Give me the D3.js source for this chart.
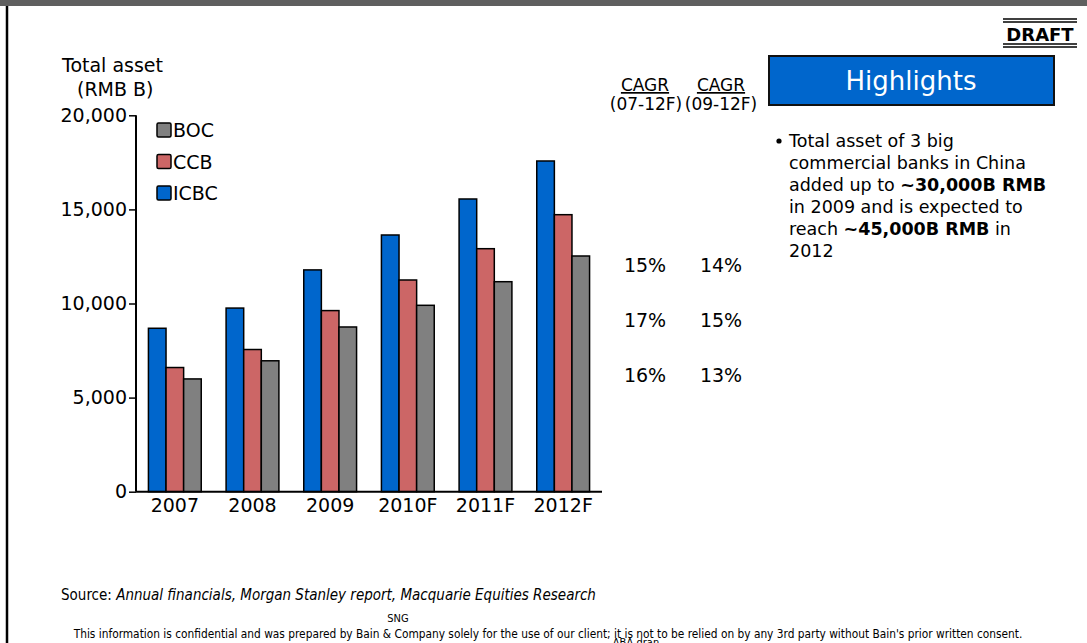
<!DOCTYPE html>
<html>
<head>
<meta charset="utf-8">
<script src="https://cdn.jsdelivr.net/npm/d3@7"></script>
<style>
  body { margin: 0; background: #fff; }
  svg { display: block; font-family: "DejaVu Sans", Verdana, sans-serif; }
</style>
</head>
<body>
<svg width="1087" height="643"></svg>
<script>
// chart data
var years = ['2007', '2008', '2009', '2010F', '2011F', '2012F'];
var banks = ['ICBC', 'CCB', 'BOC'];
var icbc = [8684, 9757, 11785, 13640, 15553, 17572];
var ccb  = [6598, 7555, 9623, 11249, 12912, 14719];
var boc  = [5992, 6956, 8752, 9904, 11158, 12524];
var yTicks = [0, 5000, 10000, 15000, 20000];
var cagr0712 = ['15%', '17%', '16%'];   // ICBC, CCB, BOC
var cagr0912 = ['14%', '15%', '13%'];
var legendOrder = ['BOC', 'CCB', 'ICBC'];

var colors = { ICBC: '#0066CC', CCB: '#CC6666', BOC: '#808080' };
var values = { ICBC: icbc, CCB: ccb, BOC: boc };

var svg = d3.select('svg');

// frame
svg.append('rect').attr('x', 0).attr('y', 0).attr('width', 1087).attr('height', 6).attr('fill', '#5f5f5f');
svg.append('line').attr('x1', 7).attr('y1', 6).attr('x2', 7).attr('y2', 643)
   .attr('stroke', '#000').attr('stroke-width', 2.5);

// DRAFT stamp
var dg = svg.append('g');
[19, 22, 44, 47].forEach(function(y){
  dg.append('line').attr('x1', 1003).attr('x2', 1077).attr('y1', y).attr('y2', y)
    .attr('stroke', '#000').attr('stroke-width', 1.5);
});
dg.append('text').attr('x', 1040).attr('y', 41).attr('text-anchor', 'middle')
  .attr('font-size', 18).attr('font-weight', 'bold').text('DRAFT');

// scales
var x0 = d3.scaleBand().domain(years).range([136, 602]).paddingInner(0.32).paddingOuter(0.16);
var x1 = d3.scaleBand().domain(banks).range([0, x0.bandwidth()]);
var y = d3.scaleLinear().domain([0, 20000]).range([491.7, 115.3]);

// bars
var groups = svg.append('g').selectAll('g').data(years).join('g')
  .attr('transform', function(d){ return 'translate(' + x0(d) + ',0)'; });
groups.selectAll('rect')
  .data(function(d, i){ return banks.map(function(b){ return { bank: b, v: values[b][i] }; }); })
  .join('rect')
  .attr('x', function(d){ return x1(d.bank); })
  .attr('y', function(d){ return y(d.v); })
  .attr('width', x1.bandwidth())
  .attr('height', function(d){ return y(0) - y(d.v); })
  .attr('fill', function(d){ return colors[d.bank]; })
  .attr('stroke', '#000').attr('stroke-width', 1.5);

// y axis
var yAxis = svg.append('g').attr('transform', 'translate(136,0)')
  .call(d3.axisLeft(y).tickValues(yTicks).tickFormat(d3.format(',')).tickSize(7).tickPadding(2));
yAxis.select('.domain').attr('stroke-width', 2).attr('d', 'M0,' + y(20000) + 'V' + y(0));
yAxis.selectAll('.tick line').attr('stroke-width', 1.5);
yAxis.selectAll('text').attr('font-size', 19).attr('font-family', '"DejaVu Sans", sans-serif').attr('fill', '#000');

// x axis
var xAxis = svg.append('g').attr('transform', 'translate(0,' + y(0) + ')')
  .call(d3.axisBottom(x0).tickSize(0).tickPadding(7));
xAxis.select('.domain').attr('stroke-width', 2).attr('d', 'M136,0H602');
xAxis.selectAll('text').attr('font-size', 19).attr('font-family', '"DejaVu Sans", sans-serif').attr('fill', '#000');

// y title
svg.append('text').attr('x', 62).attr('y', 72).attr('font-size', 19).text('Total asset');
svg.append('text').attr('x', 77).attr('y', 96).attr('font-size', 19).text('(RMB B)');

// legend
var lg = svg.append('g').selectAll('g').data(legendOrder).join('g')
  .attr('transform', function(d, i){ return 'translate(157,' + (123 + i * 31.5) + ')'; });
lg.append('rect').attr('width', 14).attr('height', 14).attr('rx', 1.5)
  .attr('fill', function(d){ return colors[d]; }).attr('stroke', '#000').attr('stroke-width', 1.5);
lg.append('text').attr('x', 16).attr('y', 14).attr('font-size', 19).text(function(d){ return d; });

// CAGR columns
var colX = [645, 721];
var hdr = svg.append('g').attr('font-size', 17).attr('text-anchor', 'middle');
hdr.append('text').attr('x', colX[0]).attr('y', 91).attr('text-decoration', 'underline').text('CAGR');
hdr.append('text').attr('x', colX[1]).attr('y', 91).attr('text-decoration', 'underline').text('CAGR');
hdr.append('text').attr('x', colX[0] + 1).attr('y', 110).text('(07-12F)');
hdr.append('text').attr('x', colX[1]).attr('y', 110).text('(09-12F)');
var rowY = d3.scalePoint().domain(banks).range([272, 382]);
svg.append('g').selectAll('text').data(cagr0712).join('text')
  .attr('x', colX[0]).attr('y', function(d, i){ return rowY(banks[i]); })
  .attr('text-anchor', 'middle').attr('font-size', 19).text(function(d){ return d; });
svg.append('g').selectAll('text').data(cagr0912).join('text')
  .attr('x', colX[1]).attr('y', function(d, i){ return rowY(banks[i]); })
  .attr('text-anchor', 'middle').attr('font-size', 19).text(function(d){ return d; });

// highlights
svg.append('rect').attr('x', 769).attr('y', 56).attr('width', 285).attr('height', 49)
  .attr('fill', '#0066CC').attr('stroke', '#111').attr('stroke-width', 2);
svg.append('text').attr('x', 911).attr('y', 90).attr('text-anchor', 'middle')
  .attr('font-size', 26).attr('fill', '#fff').text('Highlights');
svg.append('circle').attr('cx', 779).attr('cy', 141).attr('r', 2.6).attr('fill', '#000');
var lines = [
  [['Total asset of 3 big', false]],
  [['commercial banks in China', false]],
  [['added up to ', false], ['~30,000B RMB', true]],
  [['in 2009 and is expected to', false]],
  [['reach ', false], ['~45,000B RMB', true], [' in', false]],
  [['2012', false]]
];
var hl = svg.append('text').attr('font-size', 17.5);
lines.forEach(function(parts, i){
  parts.forEach(function(p, j){
    var t = hl.append('tspan').text(p[0]).attr('font-weight', p[1] ? 'bold' : 'normal');
    if (j === 0) t.attr('x', 789).attr('y', 147 + i * 22);
  });
});

// source & footer
var src = svg.append('text').attr('x', 61).attr('y', 600).attr('font-size', 15)
  .attr('font-family', '"DejaVu Sans Condensed", "DejaVu Sans", sans-serif');
src.append('tspan').text('Source: ');
src.append('tspan').attr('font-style', 'italic').text('Annual financials, Morgan Stanley report, Macquarie Equities Research');
svg.append('text').attr('x', 398).attr('y', 622).attr('font-size', 11).attr('text-anchor', 'middle')
  .attr('font-family', '"DejaVu Sans Condensed", sans-serif').text('SNG');
svg.append('text').attr('x', 548).attr('y', 638).attr('font-size', 11.8).attr('text-anchor', 'middle')
  .attr('font-family', '"DejaVu Sans Condensed", sans-serif')
  .text("This information is confidential and was prepared by Bain & Company solely for the use of our client; it is not to be relied on by any 3rd party without Bain's prior written consent.");
svg.append('text').attr('x', 636).attr('y', 646).attr('font-size', 11).attr('text-anchor', 'middle')
  .attr('font-family', '"DejaVu Sans Condensed", sans-serif').text('ABA-dran');
</script>
</body>
</html>
